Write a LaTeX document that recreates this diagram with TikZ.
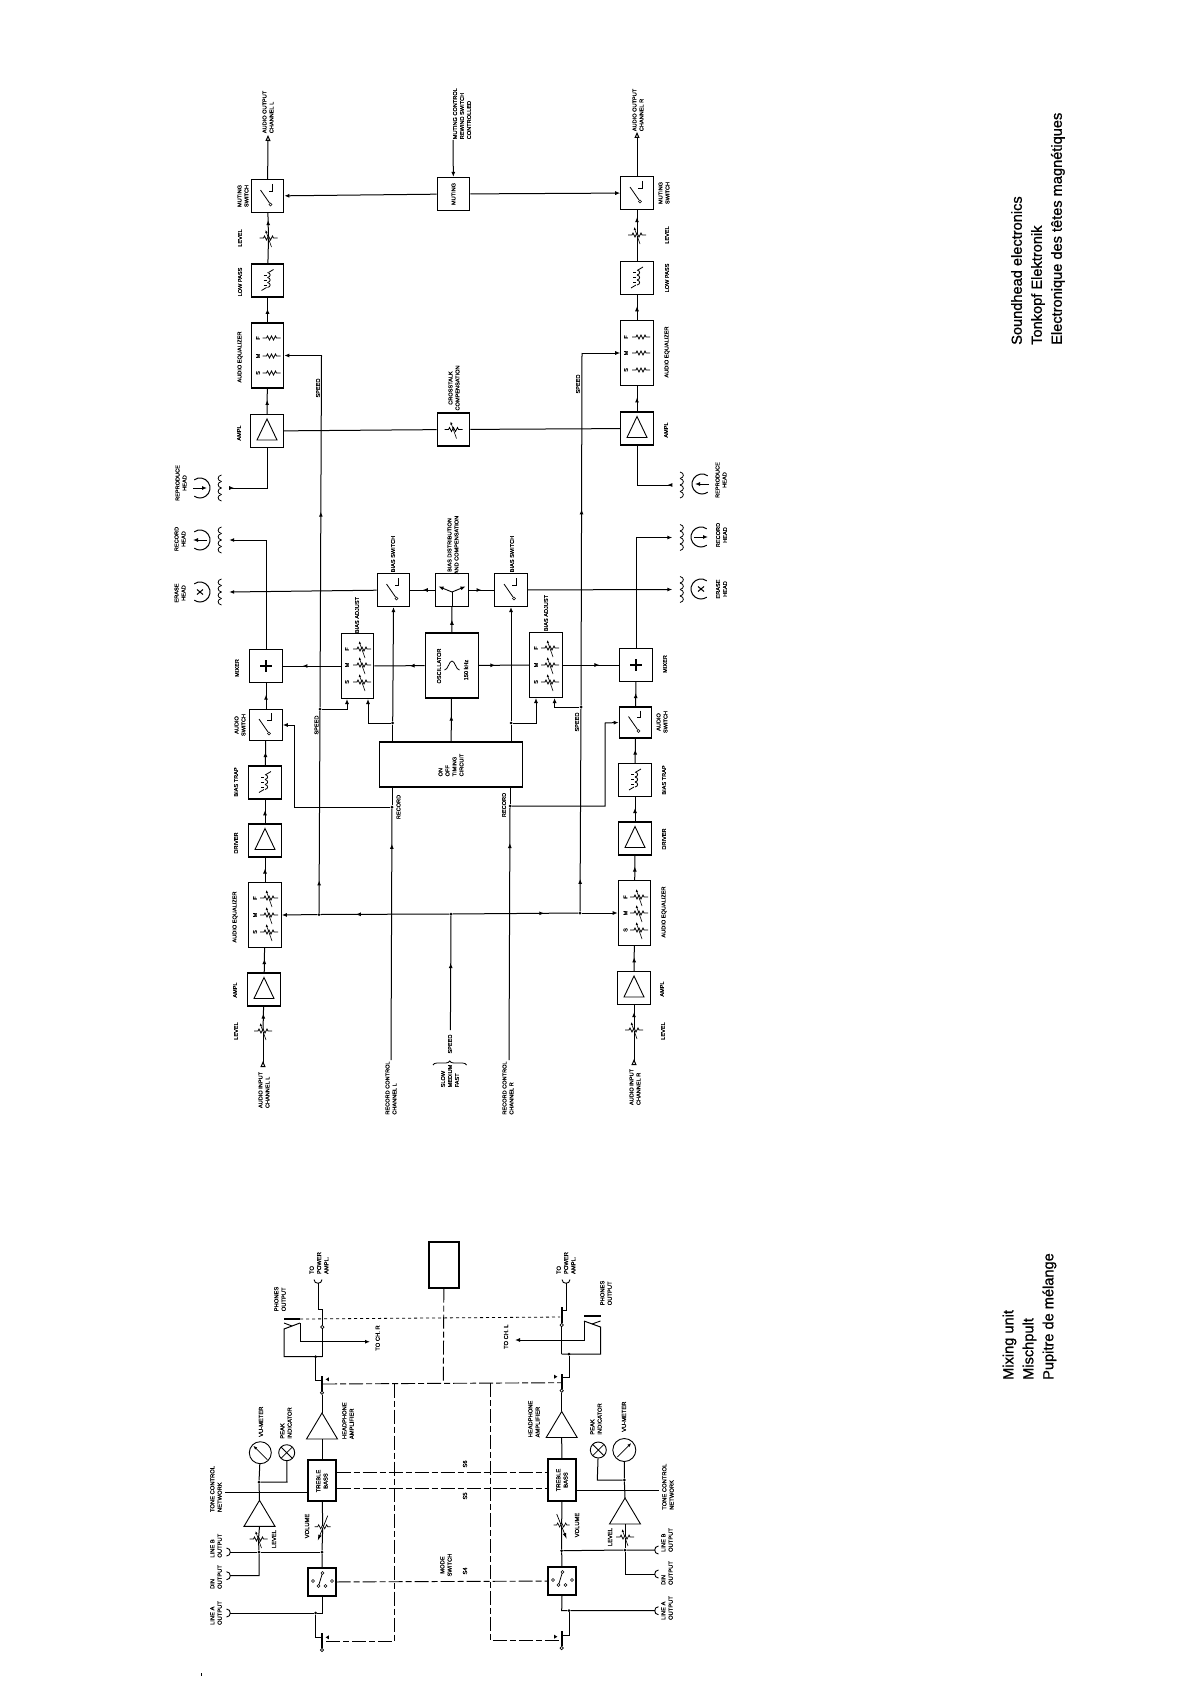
\documentclass[tikz,border=0pt]{standalone}
\usepackage{fontspec}
\setmainfont{Liberation Sans}[FakeBold=1]
\usetikzlibrary{arrows.meta,decorations.markings,decorations.pathreplacing}
\tikzset{
  pics/zig/.style={code={\draw[line width=.7pt] (-9,0)--(-5,0)--(-4,-2)--(-2,2)--(0,-2)--(2,2)--(4,-2)--(5,0)--(9,0);}},
  pics/pot/.style={code={
    \draw[line width=.7pt] (-9,0)--(-5,0)--(-4,-2)--(-2,2)--(0,-2)--(2,2)--(4,-2)--(5,0)--(9,0);
    \draw[line width=.6pt,-{Latex[length=3pt,width=2.5pt]}] (3,9)--(-3,-8);}},
  pics/potvol/.style={code={
    \draw[line width=.7pt] (-8,0)--(-5,0)--(-4,-2)--(-2,2)--(0,-2)--(2,2)--(4,-2)--(5,0)--(8,0);
    \draw[line width=.7pt,-{Latex[length=6pt,width=3.5pt]}] (5,-11)--(-5,14);}},
  pics/swsym/.style={code={
    \draw[line width=.8pt] (5,-12)--(5,-5)--(1,-5);
    \draw[line width=.8pt] (-7,-6)--(2,7);
    \draw[line width=.6pt] (3,8.5) circle[radius=1.5];}},
  pics/lpsym/.style={code={
    \draw[line width=.8pt] (6,-11)--(1,-8);
    \draw[line width=.8pt] (-6,10)--(-1,7);
    \foreach \yy in {-8,-3,2} {\draw[line width=.8pt] (0,\yy) .. controls (3.5,\yy+.5) and (3.5,\yy+4.5) .. (0,\yy+5);}
    \foreach \yy in {-5.5,-.5,4.5} {\draw[line width=.5pt] (-4,\yy)--(-1,\yy);}}},
  pics/amptri/.style={code={\draw[line width=.9pt] (0,-12)--(-10,9)--(10,9)--cycle;}},
  pics/bigtri/.style={code={\draw[line width=.9pt] (0,-13)--(-15.5,13)--(15.5,13)--cycle;}},
  pics/plussym/.style={code={\draw[line width=1.7pt] (-6,0)--(6,0) (0,-6)--(0,6);}},
  pics/coil/.style={code={
    \foreach \yy in {-13,-6.5,0,6.5} {\draw[line width=.8pt] (0,\yy) .. controls (-4.5,\yy+1) and (-4.5,\yy+5.5) .. (0,\yy+6.5);}}},
  pics/headarc/.style={code={\draw[line width=1pt] (-125:10) arc[start angle=-125,end angle=125,radius=10];}},
  pics/jackc/.style={code={\draw[line width=.9pt] (-3.5,-4) .. controls (1.5,-4) and (1.5,4) .. (-3.5,4);}},
  pics/meter/.style={code={\draw[line width=.7pt,-{Latex[length=4pt,width=3pt]}] (-7,7)--(7,-7);}},
  pics/crosssym/.style={code={\draw[line width=.8pt] (-5.6,-5.6)--(5.6,5.6) (-5.6,5.6)--(5.6,-5.6);}},
  pics/reltip/.style={code={\fill (-1.6,0)--(1.6,-2)--(1.6,2)--cycle;}},
  pics/modesym/.style={code={
    \draw[line width=.8pt] (.5,-9)--(-3.5,4);
    \foreach \cx/\cy in {-9/-1,-3.5/4,3.5/4,10/-1,.5/-9} {\draw[line width=.6pt,fill=white] (\cx,\cy) circle[radius=1.5];}}},
}
\begin{document}
\begin{tikzpicture}[x=1pt,y=-1pt,
  blk/.style={draw,line width=1.1pt,minimum width=32.5pt,minimum height=33pt,inner sep=0pt},
  tallblk/.style={blk,minimum height=65pt},
  smallblk/.style={blk,minimum width=28pt},
  potn/.style={inner sep=0pt,minimum size=2pt},
  coiln/.style={inner sep=0pt,minimum width=15pt,minimum height=26pt},
  lab/.style={rotate=90,font=\fontsize{5.6}{7}\selectfont,align=center,inner sep=0pt},
  labl/.style={lab,align=left},
  labm/.style={lab,font=\fontsize{5.8}{7.3}\selectfont},
  labml/.style={labm,align=left},
  title/.style={rotate=90,anchor=west,font=\fontsize{14.6}{20}\selectfont,align=left,inner sep=0pt},
  ln/.style={line width=1pt},
  dot/.style={circle,fill,inner sep=0pt,minimum size=3pt},
  opn/.style={circle,draw,fill=white,line width=.7pt,inner sep=0pt,minimum size=3.4pt},
  tipend/.style={-{Latex[length=5pt,width=4pt]}},
  tipstart/.style={{Latex[length=5pt,width=4pt,reversed]}-},
  tipout/.style={-{Triangle[open,length=6pt,width=5pt]}},
  tipin/.style={{Triangle[open,length=6pt,width=5pt,reversed]}-},
  arrm/.style={postaction={decorate},decoration={markings,mark=at position #1 with {\arrow{Latex[length=5pt,width=4pt]}}}},
  arrm/.default=.55,
  dashl/.style={line width=.9pt,dash pattern=on 14pt off 3pt on 6pt off 3pt},
  dashs/.style={line width=.8pt,dash pattern=on 3pt off 3pt}]
  \useasboundingbox (0,0) rectangle (1190,1685);

  % titles
  \node[title] (ttlhead) at (1038,345) {Soundhead electronics\\Tonkopf Elektronik\\Electronique des têtes magnétiques};
  \node[title] (ttlmix) at (1029.5,1380) {Mixing unit\\Mischpult\\Pupitre de mélange};

  % soundhead, left channel
  \node[blk] (mutswL) at (267.5,196) {};
  \node[potn] (lvloL) at (268.5,238) {};
  \node[blk] (lpL) at (267.5,280.5) {};
  \node[tallblk] (eqoL) at (267.5,355.5) {};
  \node[blk] (amprL) at (267,431) {};
  \node[coiln] (coilpbL) at (221.5,488) {};
  \node[coiln] (coilrecL) at (221.5,540) {};
  \node[coiln] (coileraL) at (221.5,592) {};
  \node[blk] (mixL) at (266,666) {};
  \node[blk,minimum height=31pt] (audswL) at (266,725) {};
  \node[blk] (trapL) at (265,782.5) {};
  \node[blk] (drvL) at (265,840.5) {};
  \node[tallblk] (eqiL) at (265,915) {};
  \node[blk] (ampiL) at (264,989.5) {};
  \node[potn] (lvliL) at (263,1031) {};
  \coordinate (outL) at (268,135);
  \coordinate (inL) at (263,1067);

  % soundhead, right channel
  \node[blk] (mutswR) at (637,193) {};
  \node[potn] (lvloR) at (637,235) {};
  \node[blk] (lpR) at (637,278) {};
  \node[tallblk] (eqoR) at (637,353) {};
  \node[blk] (amprR) at (637,428.5) {};
  \node[coiln] (coilpbR) at (680,485) {};
  \node[coiln] (coilrecR) at (680,537.5) {};
  \node[coiln] (coileraR) at (680,589.5) {};
  \node[blk] (mixR) at (636,665) {};
  \node[blk,minimum height=31pt] (audswR) at (635.5,722.5) {};
  \node[blk] (trapR) at (635,780) {};
  \node[blk] (drvR) at (635,838.5) {};
  \node[tallblk] (eqiR) at (634.5,913) {};
  \node[blk] (ampiR) at (634,988) {};
  \node[potn] (lvliR) at (634,1030) {};
  \coordinate (outR) at (637,132);
  \coordinate (inR) at (634,1065);

  % soundhead, middle
  \node[blk] (mutemid) at (453.5,194) {};
  \node[blk] (xtalk) at (453.5,429.5) {};
  \node[blk] (biasswL) at (393.5,590) {};
  \node[blk] (biasdist) at (452,590) {};
  \node[blk] (biasswR) at (511,590) {};
  \node[tallblk] (adjL) at (357.5,666) {};
  \node[tallblk] (adjR) at (546,665) {};
  \node[blk,minimum width=53pt,minimum height=65pt] (osc) at (451.7,665.5) {};
  \node[blk,minimum width=143.5pt,minimum height=45pt] (timer) at (451,764.5) {};
  \coordinate (mutein) at (453,140);

  % symbols in the boxes
  \foreach \nm in {mutswL,mutswR,biasswL,biasswR,audswL,audswR} {\pic at (\nm) {swsym};}
  \foreach \nm in {lpL,lpR,trapL,trapR} {\pic at (\nm) {lpsym};}
  \foreach \nm in {amprL,amprR,drvL,drvR,ampiL,ampiR} {\pic at (\nm) {amptri};}
  \foreach \nm in {mixL,mixR} {\pic at (\nm) {plussym};}
  \foreach \nm in {lvloL,lvloR,lvliL,lvliR,xtalk} {\pic at (\nm) {pot};}
  \foreach \rowy/\rowl in {338/F,356/M,373/S} {\node[lab] (eoL\rowl) at (258,\rowy) {\rowl}; \pic at (271.5,\rowy) {zig};}
  \foreach \rowy/\rowl in {337/F,353/M,370/S} {\node[lab] (eoR\rowl) at (626,\rowy) {\rowl}; \pic at (641,\rowy) {zig};}
  \foreach \rowy/\rowl in {898/F,915/M,932/S} {\node[lab] (eiL\rowl) at (255,\rowy) {\rowl}; \pic at (269,\rowy) {pot};}
  \foreach \rowy/\rowl in {897/F,913/M,930/S} {\node[lab] (eiR\rowl) at (625.5,\rowy) {\rowl}; \pic at (639,\rowy) {pot};}
  \foreach \rowy/\rowl in {649/F,665/M,682/S} {\node[lab] (adL\rowl) at (347,\rowy) {\rowl}; \pic at (362,\rowy) {pot};}
  \foreach \rowy/\rowl in {648/F,665/M,682/S} {\node[lab] (adR\rowl) at (536,\rowy) {\rowl}; \pic at (550,\rowy) {pot};}
  \draw[line width=.8pt] (444.5,670) .. controls (448,670) and (449,661) .. (452,661) .. controls (455,661) and (456,670) .. (459.5,670);
  \coordinate (distc) at (452,592);
  \draw[line width=.9pt] (biasdist.south) -- (distc);
  \draw[line width=.9pt,tipend] (distc) -- (438.5,586.5);
  \draw[line width=.9pt,tipend] (distc) -- (465.5,586.5);

  % heads
  \foreach \nm in {coilpbL,coilrecL,coileraL} {\pic at (\nm) {coil};}
  \foreach \nm in {coilpbR,coilrecR,coileraR} {\pic[xscale=-1] at (\nm) {coil};}
  \node[potn] (headpbL) at (200,488) {};
  \node[potn] (headrecL) at (200,540) {};
  \node[potn] (headeraL) at (200,592) {};
  \node[potn] (headpbR) at (702,484) {};
  \node[potn] (headrecR) at (701,537) {};
  \node[potn] (headeraR) at (701,589) {};
  \foreach \nm in {headpbL,headrecL,headeraL} {\pic at (\nm) {headarc};}
  \foreach \nm in {headpbR,headrecR,headeraR} {\pic[xscale=-1] at (\nm) {headarc};}
  \draw[ln,tipend] (193,488) -- (207,488);
  \draw[ln,tipend] (207,540) -- (193,540);
  \draw[ln,tipend] (709,484) -- (695,484);
  \draw[ln,tipend] (694,537) -- (708,537);
  \draw[line width=1pt] (197,589.5)--(203,594.5) (197,594.5)--(203,589.5);
  \draw[line width=1pt] (698,586.5)--(704,591.5) (698,591.5)--(704,586.5);

  % signal path, left
  \draw[ln,tipout] (mutswL) -- (outL);
  \draw[ln,arrm=.7] (lvloL) -- (mutswL);
  \draw[ln] (lpL) -- (lvloL);
  \draw[ln,arrm] (eqoL) -- (lpL);
  \draw[ln,arrm] (amprL) -- (eqoL);
  \draw[ln,tipstart] (coilpbL.east) -| (amprL.south);
  \draw[ln,tipend] (mixL.north) |- (coilrecL.east);
  \draw[ln,arrm=.55] (audswL) -- (mixL);
  \draw[ln,arrm=.55] (trapL) -- (audswL);
  \draw[ln,arrm=.55] (drvL) -- (trapL);
  \draw[ln,arrm=.55] (eqiL) -- (drvL);
  \draw[ln,arrm=.55] (ampiL) -- (eqiL);
  \draw[ln,arrm=.7] (lvliL) -- (ampiL);
  \draw[ln,tipin] (inL) -- (lvliL);

  % signal path, right
  \draw[ln,tipout] (mutswR) -- (outR);
  \draw[ln,arrm=.7] (lvloR) -- (mutswR);
  \draw[ln] (lpR) -- (lvloR);
  \draw[ln,arrm] (eqoR) -- (lpR);
  \draw[ln,arrm] (amprR) -- (eqoR);
  \draw[ln,tipstart] (coilpbR.west) -| (amprR.south);
  \draw[ln,tipend] (mixR.north) |- (coilrecR.west);
  \draw[ln,arrm=.55] (audswR) -- (mixR);
  \draw[ln,arrm=.55] (trapR) -- (audswR);
  \draw[ln,arrm=.55] (drvR) -- (trapR);
  \draw[ln,arrm=.55] (eqiR) -- (drvR);
  \draw[ln,arrm=.55] (ampiR) -- (eqiR);
  \draw[ln,arrm=.7] (lvliR) -- (ampiR);
  \draw[ln,tipin] (inR) -- (lvliR);

  % muting, crosstalk, bias
  \draw[ln,tipend] (mutein) -- (mutemid);
  \draw[ln,tipend] (mutemid) -- (mutswL);
  \draw[ln,tipend] (mutemid) -- (mutswR);
  \draw[ln] (amprL) -- (xtalk); \draw[ln] (xtalk) -- (amprR);
  \draw[ln,tipend] (biasswL) -- (coileraL.east);
  \draw[ln,tipend] (biasswR) -- (coileraR.west);
  \draw[ln,arrm=.5] (biasdist) -- (biasswL);
  \draw[ln,arrm=.5] (biasdist) -- (biasswR);
  \draw[ln,arrm=.5] (osc) -- (biasdist);
  \draw[ln,arrm=.3] (osc) -- (adjL);
  \draw[ln,arrm=.33] (osc) -- (adjR);
  \draw[ln,arrm=.66] (adjL) -- (mixL);
  \draw[ln,arrm=.65] (adjR) -- (mixR);
  \draw[ln,arrm=.6] (timer) -- (osc);

  % speed
  \node[dot] (spmid) at (451,914) {};
  \node[dot] (spdotL) at (319,914.5) {};
  \node[dot] (spdotR) at (580,913) {};
  \node[dot] (spadjL) at (320,709) {};
  \node[dot] (spadjR) at (581,707) {};
  \coordinate (spin) at (450.4,1030);
  \coordinate (sptopL) at (321.5,355.5);
  \coordinate (sptopR) at (582,353);
  \coordinate (adjinL) at (347,699);
  \coordinate (adjinR) at (554.6,698);
  \draw[ln,arrm=.586] (spin) -- (spmid);
  \draw[ln,arrm=.727] (spmid) -- (spdotL);
  \draw[ln,arrm=.729] (spmid) -- (spdotR);
  \draw[ln,tipend] (spdotL) -- (eqiL.east);
  \draw[ln,tipend] (spdotR) -- (eqiR.west);
  \draw[ln,arrm=.16] (spdotL) -- (spadjL);
  \draw[ln,arrm=.16] (spdotR) -- (spadjR);
  \draw[ln,arrm=.556] (spadjL) -- (sptopL);
  \draw[ln,arrm=.556] (spadjR) -- (sptopR);
  \draw[ln,tipend] (sptopL) -- (eqoL.east);
  \draw[ln,tipend] (sptopR) -- (eqoR.west);
  \draw[ln,tipend] (spadjL) -| (adjinL);
  \draw[ln,tipend] (spadjR) -| (adjinR);
  \draw[line width=.8pt,decorate,decoration={brace,amplitude=4pt}] (433,1065) -- (466.5,1065);

  % record control
  \node[dot] (recaL) at (392,807) {};
  \node[dot] (recbL) at (392.7,723) {};
  \node[dot] (recaR) at (510,806) {};
  \node[dot] (recbR) at (511,723) {};
  \coordinate (recinL) at (391,1060);
  \coordinate (recinR) at (509,1060);
  \coordinate (adjrecL) at (368,699);
  \coordinate (adjrecR) at (536,698);
  \coordinate (audinL) at (294.6,725);
  \coordinate (audinR) at (605,723);
  \draw[ln,arrm=.86] (recinL) -- (recaL);
  \draw[ln,arrm=.86] (recinR) -- (recaR);
  \draw[ln] (recaL) -- (recaL |- timer.south);
  \draw[ln] (recaR) -- (recaR |- timer.south);
  \draw[ln] (recbL |- timer.north) -- (recbL);
  \draw[ln] (recbR |- timer.north) -- (recbR);
  \draw[ln,tipend] (recbL) -- (biasswL.south);
  \draw[ln,tipend] (recbR) -- (biasswR.south);
  \draw[ln,tipend] (recbL) -| (adjrecL);
  \draw[ln,tipend] (recbR) -| (adjrecR);
  \draw[ln,tipend] (recaL) -| (audinL) -- (audswL.east);
  \draw[ln,tipend] (recaR) -| (audinR) -- (audswR.west);

  % soundhead labels
  \node[labl] (lbOutL) at (268,112) {AUDIO OUTPUT\\CHANNEL L};
  \node[labl] (lbOutR) at (638,110) {AUDIO OUTPUT\\CHANNEL R};
  \node[labl] (lbMute) at (462,113.7) {MUTING CONTROL\\REWIND SWITCH\\CONTROLLED};
  \node[lab] (lbMutL) at (243,196) {MUTING\\SWITCH};
  \node[lab] (lbMutR) at (664,193) {MUTING\\SWITCH};
  \node[lab] (lbMutM) at (453.5,194) {MUTING};
  \node[lab] (lbLvlL) at (240,238) {LEVEL};
  \node[lab] (lbLvlR) at (667,235) {LEVEL};
  \node[lab] (lbLpL) at (240,282) {LOW PASS};
  \node[lab] (lbLpR) at (667,278) {LOW PASS};
  \node[lab] (lbEqoL) at (240,357) {AUDIO EQUALIZER};
  \node[lab] (lbEqoR) at (667,352) {AUDIO EQUALIZER};
  \node[lab] (lbSpL) at (318,388) {SPEED};
  \node[lab] (lbSpR) at (578,384) {SPEED};
  \node[lab] (lbXt) at (454,388) {CROSSTALK\\COMPENSATION};
  \node[lab] (lbAmpL) at (239,433) {AMPL};
  \node[lab] (lbAmpR) at (666,430) {AMPL};
  \node[lab] (lbPbL) at (181,483) {REPRODUCE\\HEAD};
  \node[lab] (lbPbR) at (721,480) {REPRODUCE\\HEAD};
  \node[lab] (lbRecL) at (180,539) {RECORD\\HEAD};
  \node[lab] (lbRecR) at (721.5,535) {RECORD\\HEAD};
  \node[lab] (lbEraL) at (180,593) {ERASE\\HEAD};
  \node[lab] (lbEraR) at (721.5,589) {ERASE\\HEAD};
  \node[lab] (lbBsL) at (393,554) {BIAS SWITCH};
  \node[lab] (lbBsR) at (512,554) {BIAS SWITCH};
  \node[lab] (lbDist) at (453,545) {BIAS DISTRIBUTION\\AND COMPENSATION};
  \node[lab] (lbAdjL) at (357,615) {BIAS ADJUST};
  \node[lab] (lbAdjR) at (546,613) {BIAS ADJUST};
  \node[lab] (lbOsc) at (439,666) {OSCILLATOR};
  \node[lab] (lbKhz) at (466,670) {150 kHz};
  \node[lab] (lbMixL) at (237,668) {MIXER};
  \node[lab] (lbMixR) at (665,664) {MIXER};
  \node[lab] (lbSwL) at (240,725) {AUDIO\\SWITCH};
  \node[lab] (lbSwR) at (662,722) {AUDIO\\SWITCH};
  \node[lab] (lbSpaL) at (316.5,725) {SPEED};
  \node[lab] (lbSpaR) at (577,722) {SPEED};
  \node[labl] (lbTim) at (451,765) {ON\\OFF\\TIMING\\CIRCUIT};
  \node[lab] (lbTrL) at (236,782) {BIAS TRAP};
  \node[lab] (lbTrR) at (664,780) {BIAS TRAP};
  \node[lab] (lbRcL) at (398.5,807) {RECORD};
  \node[lab] (lbRcR) at (504,805) {RECORD};
  \node[lab] (lbDrL) at (236,843) {DRIVER};
  \node[lab] (lbDrR) at (664,839) {DRIVER};
  \node[lab] (lbEqiL) at (235,917) {AUDIO EQUALIZER};
  \node[lab] (lbEqiR) at (664,912) {AUDIO EQUALIZER};
  \node[lab] (lbAmiL) at (235,990) {AMPL};
  \node[lab] (lbAmiR) at (662,989) {AMPL};
  \node[lab] (lbLviL) at (236,1031) {LEVEL};
  \node[lab] (lbLviR) at (663,1031) {LEVEL};
  \node[lab] (lbSpd) at (450,1044) {SPEED};
  \node[labl] (lbSmf) at (450,1076) {SLOW\\MEDIUM\\FAST};
  \node[labl] (lbInL) at (264,1090) {AUDIO INPUT\\CHANNEL L};
  \node[labl] (lbInR) at (635,1087) {AUDIO INPUT\\CHANNEL R};
  \node[labl] (lbRcCL) at (391,1088) {RECORD CONTROL\\CHANNEL L};
  \node[labl] (lbRcCR) at (508,1088) {RECORD CONTROL\\CHANNEL R};

  % mixing unit, left channel
  \node[smallblk,minimum height=41pt] (toneL) at (322,1480.5) {};
  \node[smallblk,minimum height=28pt] (modeL) at (322,1582) {};
  \node[potn] (volL) at (322.7,1526.7) {};
  \node[potn] (lvlmL) at (258.5,1539) {};
  \node[inner sep=0pt,minimum width=31pt,minimum height=26pt] (hpaL) at (322,1426) {};
  \node[inner sep=0pt,minimum width=31pt,minimum height=26pt] (drvmL) at (259.5,1513.3) {};
  \node[circle,draw,line width=.9pt,inner sep=0pt,minimum size=22pt] (vuL) at (260.3,1452.7) {};
  \node[circle,draw,line width=.9pt,inner sep=0pt,minimum size=16pt] (pkL) at (286.7,1452.7) {};
  \node[dot] (dotmL) at (259,1482) {};
  \node[dot] (dotlvL) at (259,1552) {};
  \node[dot] (dotbL) at (322,1552) {};
  \node[dot] (dotaL) at (315.7,1613) {};
  \node[dot] (dotjL) at (315.7,1356.7) {};
  \node[opn] (conuL) at (322.3,1327) {};
  \node[opn] (conmL) at (322,1392.7) {};
  \node[opn] (condL) at (322,1650) {};
  \coordinate (lnbL) at (230,1552);
  \coordinate (dinL) at (230,1575.7);
  \coordinate (lnaL) at (230,1613);
  \coordinate (toneinL) at (225,1492.7);
  \coordinate (powL) at (318,1283);
  \coordinate (pkjL) at (287,1482);
  \coordinate (dinjL) at (259,1575.7);
  \coordinate (turnaL) at (322,1613);
  \coordinate (stubdL) at (322,1637);
  \coordinate (stubdLb) at (315.7,1637);
  \coordinate (stubmL) at (322,1380);
  \coordinate (stubmLb) at (315.7,1380);
  \coordinate (stubuL) at (318,1309.3);
  \coordinate (stubuLb) at (322.3,1309.3);
  \coordinate (jackaL) at (284,1356.7);
  \coordinate (jackbL) at (284,1329);
  \coordinate (jackcL) at (300,1323);
  \coordinate (jackdL) at (300,1341.7);
  \coordinate (chL) at (370,1341.7);
  \coordinate (jackeL) at (322.3,1356.7);
  \draw[ln] (toneL) -- (volL) -- (dotbL) -- (modeL);
  \draw[ln] (modeL.south) -- (turnaL) -- (dotaL) -- (lnaL);
  \draw[ln] (dotaL) -- (stubdLb) -- (stubdL);
  \draw[ln] (dotbL) -- (dotlvL) -- (lnbL);
  \draw[ln] (lvlmL) -- (dotlvL) -- (dinjL) -- (dinL);
  \draw[ln] (drvmL.south) -- (lvlmL);
  \draw[ln] (drvmL.north) -- (dotmL) -- (vuL);
  \draw[ln] (dotmL) -- (pkjL) -- (pkL);
  \draw[ln] (toneinL) -- (toneinL -| toneL.west);
  \draw[ln] (hpaL.south) -- (toneL);
  \draw[ln] (conmL) -- (hpaL.north);
  \draw[ln] (conuL) -- (jackeL);
  \draw[ln] (jackeL) -- (jackaL) -- (jackbL) -- (jackcL);
  \draw[ln] (dotjL) -- (stubmLb) -- (stubmL);
  \draw[ln] (powL) -- (stubuL) -- (stubuLb);
  \draw[ln,tipend] (jackcL) -- (jackdL) -- (chL);
  \draw[line width=.9pt] (284,1323) -- (292,1326);
  \draw[line width=2.4pt] (284,1319) -- (300,1319);
  \draw[line width=1.6pt] (322,1633) -- (322,1648);
  \draw[line width=1.6pt] (322,1376) -- (322,1390.5);
  \draw[line width=1.6pt] (322.3,1309) -- (322.3,1325);
  \pic at (hpaL) {bigtri}; \pic at (drvmL) {bigtri};
  \pic at (volL) {potvol}; \pic at (lvlmL) {pot};
  \pic at (modeL) {modesym};
  \pic[xscale=-1] at (vuL) {meter}; \pic at (pkL) {crosssym};
  \pic at (lnbL) {jackc}; \pic at (dinL) {jackc}; \pic at (lnaL) {jackc};
  \pic[rotate=-90] at (powL) {jackc};
  \pic at (327.3,1637.3) {reltip}; \pic at (327.3,1379.3) {reltip};

  % mixing unit, right channel
  \node[smallblk,minimum height=42pt] (toneR) at (562,1480) {};
  \node[smallblk,minimum height=28pt] (modeR) at (562,1581) {};
  \node[potn] (volR) at (561.7,1525) {};
  \node[potn] (lvlmR) at (625,1537) {};
  \node[inner sep=0pt,minimum width=31pt,minimum height=26pt] (hpaR) at (561.7,1424.5) {};
  \node[inner sep=0pt,minimum width=31pt,minimum height=26pt] (drvmR) at (625,1511) {};
  \node[circle,draw,line width=.9pt,inner sep=0pt,minimum size=23pt] (vuR) at (624.3,1450) {};
  \node[circle,draw,line width=.9pt,inner sep=0pt,minimum size=16pt] (pkR) at (598.3,1450) {};
  \node[dot] (dotmR) at (624.3,1480) {};
  \node[dot] (dotlvR) at (625,1550) {};
  \node[dot] (dotbR) at (561.7,1550.7) {};
  \node[dot] (dotaR) at (569,1610.7) {};
  \node[dot] (dotjR) at (569,1354) {};
  \node[opn] (conuR) at (561.7,1325) {};
  \node[opn] (conmR) at (561.7,1390.7) {};
  \node[opn] (condR) at (561.7,1648) {};
  \coordinate (lnbR) at (655,1550);
  \coordinate (dinR) at (655,1574);
  \coordinate (lnaR) at (655,1610.7);
  \coordinate (toneoutR) at (659,1490);
  \coordinate (powR) at (566,1283);
  \coordinate (pkjR) at (597.3,1480);
  \coordinate (dinjR) at (625,1574);
  \coordinate (turnaR) at (561.7,1610.7);
  \coordinate (stubdR) at (561.7,1635);
  \coordinate (stubdRb) at (569,1635);
  \coordinate (stubmR) at (561.7,1377);
  \coordinate (stubmRb) at (569,1377);
  \coordinate (stubuR) at (566,1310);
  \coordinate (stubuRb) at (561.7,1310);
  \coordinate (jackaR) at (600.5,1354);
  \coordinate (jackbR) at (600.5,1327);
  \coordinate (jackcR) at (584,1321);
  \coordinate (jackdR) at (584,1340);
  \coordinate (chR) at (515,1340);
  \coordinate (jackeR) at (561.7,1354);
  \draw[ln] (toneR) -- (volR) -- (dotbR) -- (modeR);
  \draw[ln] (modeR.south) -- (turnaR) -- (dotaR) -- (lnaR);
  \draw[ln] (dotaR) -- (stubdRb) -- (stubdR);
  \draw[ln] (dotbR) -- (dotlvR) -- (lnbR);
  \draw[ln] (lvlmR) -- (dotlvR) -- (dinjR) -- (dinR);
  \draw[ln] (drvmR.south) -- (lvlmR);
  \draw[ln] (drvmR.north) -- (dotmR) -- (vuR);
  \draw[ln] (dotmR) -- (pkjR) -- (pkR);
  \draw[ln] (toneoutR -| toneR.east) -- (toneoutR);
  \draw[ln] (hpaR.south) -- (toneR);
  \draw[ln] (conmR) -- (hpaR.north);
  \draw[ln] (conuR) -- (jackeR);
  \draw[ln] (jackeR) -- (jackaR) -- (jackbR) -- (jackcR);
  \draw[ln] (dotjR) -- (stubmRb) -- (stubmR);
  \draw[ln] (powR) -- (stubuR) -- (stubuRb);
  \draw[ln,tipend] (jackcR) -- (jackdR) -- (chR);
  \draw[line width=.9pt] (600.5,1321) -- (592,1324);
  \draw[line width=2.4pt] (584,1316) -- (600.7,1316);
  \draw[line width=1.6pt] (561.7,1631) -- (561.7,1646);
  \draw[line width=1.6pt] (561.7,1374) -- (561.7,1388.5);
  \draw[line width=1.6pt] (561.7,1307) -- (561.7,1323);
  \pic at (hpaR) {bigtri}; \pic at (drvmR) {bigtri};
  \pic[xscale=-1] at (volR) {potvol}; \pic at (lvlmR) {pot};
  \pic at (modeR) {modesym};
  \pic at (vuR) {meter}; \pic at (pkR) {crosssym};
  \pic[rotate=180] at (lnbR) {jackc}; \pic[rotate=180] at (dinR) {jackc}; \pic[rotate=180] at (lnaR) {jackc};
  \pic[rotate=-90] at (powR) {jackc};
  \pic[xscale=-1] at (555.7,1636.7) {reltip}; \pic[xscale=-1] at (555.7,1376.7) {reltip};

  % mixing unit, links between the channels
  \node[blk,minimum width=30pt,minimum height=46pt] (auxbox) at (444,1265) {};
  \coordinate (linkmL) at (323,1384);
  \coordinate (linkmR) at (561,1382.7);
  \coordinate (linkc) at (443.3,1383);
  \coordinate (linkdL) at (323,1641);
  \coordinate (linkdR) at (561,1640);
  \coordinate (vertL) at (394,1383.5);
  \coordinate (vertR) at (490,1382.8);
  \coordinate (vertLb) at (394,1641);
  \coordinate (vertRb) at (490,1640);
  \coordinate (phL) at (300,1319);
  \coordinate (phR) at (560,1317);
  \draw[dashs] (phL) -- (phR);
  \draw[dashl] (auxbox) -- (linkc);
  \draw[dashl] (linkmL) -- (linkmR);
  \draw[dashl] (vertL) -- (vertLb) -- (linkdL);
  \draw[dashl] (vertR) -- (vertRb) -- (linkdR);
  \draw[dashl] (toneL.east |- 0,1472) -- (toneR.west |- 0,1472);
  \draw[dashl] (toneL.east |- 0,1488) -- (toneR.west |- 0,1488);
  \draw[dashl] (modeL) -- (modeR);

  % mixing unit labels
  \node[labml] (lbPowL) at (319,1263) {TO\\POWER\\AMPL.};
  \node[labml] (lbPowR) at (566,1263) {TO\\POWER\\AMPL.};
  \node[labml] (lbPhL) at (280,1299) {PHONES\\OUTPUT};
  \node[labml] (lbPhR) at (606,1293) {PHONES\\OUTPUT};
  \node[labm] (lbChR) at (377.7,1338) {TO CH. R};
  \node[labm] (lbChL) at (506,1336.7) {TO CH. L};
  \node[labml] (lbHpL) at (348,1420.7) {HEADPHONE\\AMPLIFIER};
  \node[labml] (lbHpR) at (534,1419) {HEADPHONE\\AMPLIFIER};
  \node[labm] (lbVuL) at (261,1421.7) {VU-METER};
  \node[labm] (lbVuR) at (624,1416.7) {VU-METER};
  \node[labml] (lbPkL) at (286,1423) {PEAK\\INDICATOR};
  \node[labml] (lbPkR) at (596,1419) {PEAK\\INDICATOR};
  \node[labm] (lbTnL) at (322,1481) {TREBLE\\BASS};
  \node[labm] (lbTnR) at (562,1480) {TREBLE\\BASS};
  \node[labml] (lbNtL) at (216,1489) {TONE CONTROL\\NETWORK};
  \node[labml] (lbNtR) at (668,1486.7) {TONE CONTROL\\NETWORK};
  \node[labm] (lbS6) at (465,1464) {S6};
  \node[labm] (lbS5) at (465,1496) {S5};
  \node[labm] (lbS4) at (465,1571) {S4};
  \node[labm] (lbMode) at (446,1565) {MODE\\SWITCH};
  \node[labm] (lbVolL) at (307,1526) {VOLUME};
  \node[labm] (lbVolR) at (577,1525) {VOLUME};
  \node[labm] (lbLvmL) at (274,1539) {LEVEL};
  \node[labm] (lbLvmR) at (610,1537) {LEVEL};
  \node[labml] (lbLnbL) at (216,1545.7) {LINE B\\OUTPUT};
  \node[labml] (lbLnbR) at (667,1540) {LINE B\\OUTPUT};
  \node[labml] (lbDinL) at (216,1577) {DIN\\OUTPUT};
  \node[labml] (lbDinR) at (667,1573) {DIN\\OUTPUT};
  \node[labml] (lbLnaL) at (216,1613) {LINE A\\OUTPUT};
  \node[labml] (lbLnaR) at (667,1608) {LINE A\\OUTPUT};
  \draw[line width=.6pt] (201.7,1673) -- (201.7,1676);
\end{tikzpicture}
\end{document}
